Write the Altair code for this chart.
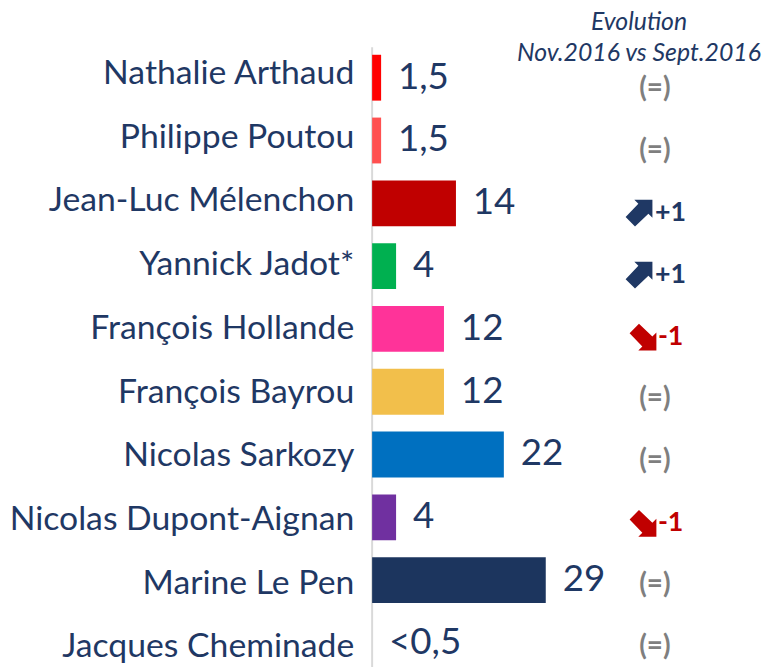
import altair as alt
import pandas as pd

candidates = [
    "Nathalie Arthaud", "Philippe Poutou", "Jean-Luc Mélenchon", "Yannick Jadot*",
    "François Hollande", "François Bayrou", "Nicolas Sarkozy",
    "Nicolas Dupont-Aignan", "Marine Le Pen", "Jacques Cheminade",
]
scores = [1.5, 1.5, 14, 4, 12, 12, 22, 4, 29, 0]
score_labels = ["1,5", "1,5", "14", "4", "12", "12", "22", "4", "29", "<0,5"]
evolution = ["(=)", "(=)", "+1", "+1", "-1", "(=)", "(=)", "-1", "(=)", "(=)"]
bar_colors = [
    "#FF0000", "#FF5050", "#C00000", "#00B050", "#FF3399",
    "#F2BF4B", "#0070C0", "#7030A0", "#1C355E", "#FFFFFF",
]
header_lines = ["Evolution", "Nov.2016 vs Sept.2016"]

NAVY = "#1F3864"
RED = "#C00000"
GREY = "#7F7F7F"
FONT = "Lato"

df = pd.DataFrame({
    "candidate": candidates,
    "score": scores,
    "label": score_labels,
    "evo": evolution,
})

ARROW_UP = "M1,-1 L1,0.35 L0.7,0.05 L-0.3,1 L-1,0.3 L-0.05,-0.7 L-0.35,-1 Z"
ARROW_DOWN = "M1,1 L1,-0.35 L0.7,-0.05 L-0.3,-1 L-1,-0.3 L-0.05,0.7 L-0.35,1 Z"

band_scale = alt.Scale(domain=candidates, range=[0, 633], paddingInner=0.27, paddingOuter=0.135)
y_band = alt.Y("candidate:N", sort=candidates, scale=band_scale, axis=None)
x_q = alt.X("score:Q", scale=alt.Scale(domain=[0, 29], range=[0, 175], nice=False, zero=True), axis=None)

y_labels = alt.Y("candidate:N", sort=candidates,
                 scale=alt.Scale(type="point", domain=candidates, range=[28, 606], padding=0), axis=None)
y_evo = alt.Y("candidate:N", sort=candidates,
              scale=alt.Scale(type="point", domain=candidates, range=[43, 606], padding=0), axis=None)

base = alt.Chart(df)

bars = base.mark_bar().encode(
    x=x_q, y=y_band,
    color=alt.Color("candidate:N", scale=alt.Scale(domain=candidates, range=bar_colors), legend=None),
)

values = base.mark_text(align="left", baseline="middle", dx=17, font=FONT, fontSize=37, color=NAVY).encode(
    x=x_q, y=y_band, text="label:N"
)

names = base.mark_text(align="right", baseline="middle", font=FONT, fontSize=34, color=NAVY).encode(
    x=alt.value(-18), y=y_labels, text="candidate:N"
)

flat = base.transform_filter(alt.datum.evo == "(=)").mark_text(
    align="center", baseline="middle", font=FONT, fontWeight="bold", fontSize=28, color=GREY
).encode(x=alt.value(285), y=y_evo, text="evo:N")

up_txt = base.transform_filter(alt.datum.evo == "+1").mark_text(
    align="left", baseline="middle", font=FONT, fontWeight="bold", fontSize=27, color=NAVY
).encode(x=alt.value(285), y=y_evo, text="evo:N")

down_txt = base.transform_filter(alt.datum.evo == "-1").mark_text(
    align="left", baseline="middle", font=FONT, fontWeight="bold", fontSize=27, color=RED
).encode(x=alt.value(288), y=y_evo, text="evo:N")

up_arrow = base.transform_filter(alt.datum.evo == "+1").mark_point(
    shape=ARROW_UP, filled=True, size=729, color=NAVY, opacity=1, strokeWidth=0
).encode(x=alt.value(269), y=y_evo)

down_arrow = base.transform_filter(alt.datum.evo == "-1").mark_point(
    shape=ARROW_DOWN, filled=True, size=729, color=RED, opacity=1, strokeWidth=0
).encode(x=alt.value(273), y=y_evo)

axis_line = alt.Chart(pd.DataFrame({"a": [0]})).mark_rule(color="#D9D9D9", strokeWidth=2).encode(
    x=alt.value(0), y=alt.value(1), y2=alt.value(700)
)

header = alt.Chart(pd.DataFrame({"a": [0]})).mark_text(
    text=header_lines, align="center", baseline="alphabetic", font=FONT, fontStyle="italic",
    fontSize=25, lineHeight=31, color=NAVY
).encode(x=alt.value(269), y=alt.value(-16))

chart = alt.layer(
    axis_line, bars, values, names, flat, up_txt, down_txt, up_arrow, down_arrow, header
).resolve_scale(y="independent").properties(
    width=400, height=615,
    padding={"left": 367, "top": 36, "right": 0, "bottom": 8},
    autosize=alt.AutoSizeParams(type="none"),
).configure_view(stroke=None)

chart.save("out.html", embed_options={"renderer": "svg", "actions": False})
